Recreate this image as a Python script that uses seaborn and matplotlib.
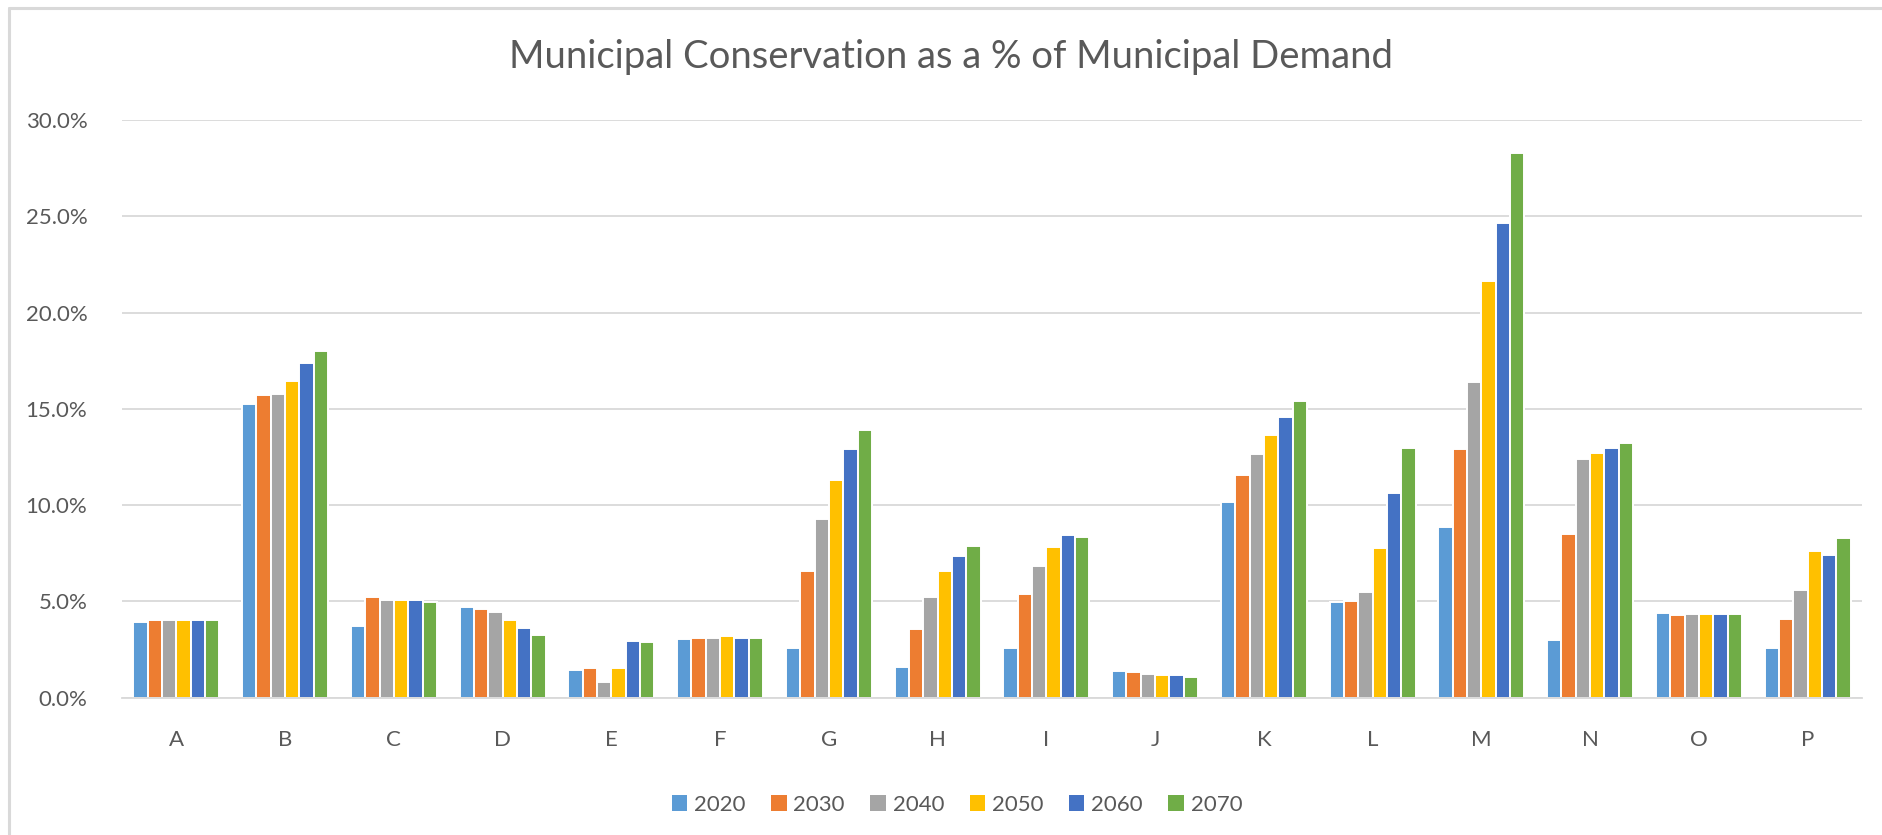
import matplotlib
matplotlib.use("Agg")
import matplotlib.pyplot as plt
from matplotlib.lines import Line2D
from matplotlib.patches import Patch
import seaborn as sns
import pandas as pd

categories = ["A", "B", "C", "D", "E", "F", "G", "H", "I", "J", "K", "L", "M", "N", "O", "P"]
years = ["2020", "2030", "2040", "2050", "2060", "2070"]

v2020 = [3.95, 15.24, 3.71, 4.69, 1.44, 3.03, 2.56, 1.59, 2.56, 1.41, 10.16, 4.96, 8.89, 2.99, 4.41, 2.60]
v2030 = [4.02, 15.71, 5.23, 4.62, 1.52, 3.12, 6.60, 3.57, 5.39, 1.33, 11.56, 5.04, 12.91, 8.51, 4.27, 4.07]
v2040 = [4.02, 15.77, 5.07, 4.47, 0.83, 3.12, 9.26, 5.23, 6.82, 1.25, 12.68, 5.49, 16.39, 12.40, 4.34, 5.57]
v2050 = [4.02, 16.47, 5.07, 4.02, 1.52, 3.19, 11.31, 6.60, 7.81, 1.17, 13.67, 7.75, 21.62, 12.70, 4.34, 7.61]
v2060 = [4.02, 17.39, 5.07, 3.64, 2.96, 3.12, 12.90, 7.36, 8.43, 1.17, 14.57, 10.64, 24.63, 12.99, 4.34, 7.39]
v2070 = [4.02, 17.99, 4.99, 3.26, 2.87, 3.12, 13.89, 7.90, 8.35, 1.09, 15.41, 12.97, 28.28, 13.24, 4.34, 8.29]

colors = ["#5B9BD5", "#ED7D31", "#A5A5A5", "#FFC000", "#4472C4", "#70AD47"]

series = [v2020, v2030, v2040, v2050, v2060, v2070]
rows = []
for y, vals in zip(years, series):
    for c, v in zip(categories, vals):
        rows.append({"Region": c, "Year": y, "Value": v / 100.0})
df = pd.DataFrame(rows)

sns.set_theme(style="white")
plt.rcParams["font.family"] = ["Lato", "DejaVu Sans"]

W, H = 1883, 835
fig = plt.figure(figsize=(W / 100, H / 100), dpi=100)
ax = fig.add_axes([122 / W, 1 - 697.7 / H, (1862 - 122) / W, (697.7 - 120.1) / H])

sns.barplot(data=df, x="Region", y="Value", hue="Year", palette=colors,
            order=categories, hue_order=years, width=0.79, ax=ax,
            edgecolor="white", linewidth=1.4, legend=False, errorbar=None,
            saturation=1)

ax.set_ylim(0, 0.30)
ax.set_xlim(-0.5, len(categories) - 0.5)
yt = [0, 0.05, 0.10, 0.15, 0.20, 0.25, 0.30]
ax.set_yticks(yt)
ax.set_yticklabels([f"{t*100:.1f}%" for t in yt])
ax.yaxis.grid(True, color="#D9D9D9", linewidth=1.3)
ax.set_axisbelow(True)
for s in ["top", "right", "left"]:
    ax.spines[s].set_visible(False)
ax.spines["bottom"].set_color("#D9D9D9")
ax.spines["bottom"].set_linewidth(1.3)
ax.tick_params(axis="both", length=0, labelsize=16, labelcolor="#595959")
ax.tick_params(axis="y", pad=25)
ax.tick_params(axis="x", pad=23)
ax.set_xlabel("")
ax.set_ylabel("")

fig.text(951 / W, 1 - 57 / H, "Municipal Conservation as a % of Municipal Demand",
         ha="center", va="center", fontsize=27.5, color="#595959")

handles = [Patch(facecolor=c, edgecolor="none") for c in colors]
leg = fig.legend(handles, years, loc="center", bbox_to_anchor=(957 / W, 1 - 805 / H),
                 ncol=6, frameon=False, fontsize=16, handlelength=0.7, handleheight=0.7,
                 handletextpad=0.3, columnspacing=1.15)
for t in leg.get_texts():
    t.set_color("#595959")

# outer chart border
fig.add_artist(Line2D([9 / W, 1.0], [1 - 8 / H, 1 - 8 / H], transform=fig.transFigure,
                      color="#D9D9D9", linewidth=2.2))
fig.add_artist(Line2D([9 / W, 9 / W], [0, 1 - 8 / H], transform=fig.transFigure,
                      color="#D9D9D9", linewidth=2.2))

fig.savefig("out.png", dpi=100)
